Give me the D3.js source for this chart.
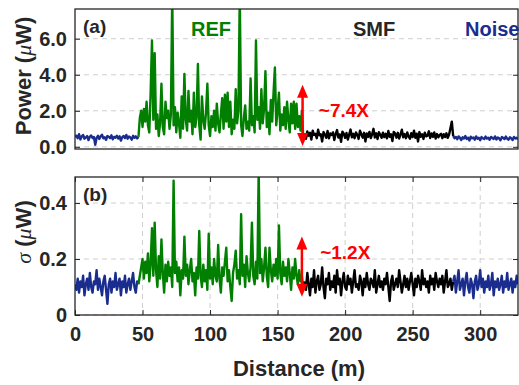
<!DOCTYPE html>
<html>
<head>
<meta charset="utf-8">
<script src="https://cdn.jsdelivr.net/npm/d3@7"></script>
<style>
  body { margin: 0; background: #fff; }
  svg text { font-family: "Liberation Sans", Arial, sans-serif; font-weight: bold; }
</style>
</head>
<body>
<div id="chart"></div>
<script>
// Tramos de la traza (distancia inicial en m, paso de 1 m)
const startNoiseA = 0, startRef = 47, startSmf = 170, startNoiseB = 280;

// Panel (a): potencia (µW)
const powerNoiseA = [0.55,0.62,0.48,0.70,0.41,0.58,0.66,0.45,0.52,0.60,
  0.38,0.57,0.63,0.49,0.55,0.12,0.50,0.61,0.44,0.58,
  0.67,0.47,0.53,0.39,0.60,0.56,0.48,0.64,0.42,0.55,
  0.51,0.62,0.46,0.58,0.35,0.54,0.60,0.49,0.66,0.45,
  0.57,0.52,0.40,0.61,0.50,0.58,0.47,0.55];
const powerRef = [0.55,1.6,2.0,1.1,2.1,1.4,2.5,1.2,0.8,3.0,
  5.9,1.5,5.2,1.0,1.8,0.6,1.3,3.5,1.1,0.7,
  2.5,1.6,2.0,1.0,1.8,8.5,1.2,2.2,0.8,1.9,
  1.3,0.5,2.8,1.0,4.05,1.5,0.9,3.1,1.4,2.0,
  0.7,3.0,1.1,1.6,4.6,1.2,0.4,2.8,1.5,1.0,
  1.9,3.5,1.2,0.6,1.7,1.1,2.0,0.9,2.4,1.3,
  0.8,1.8,2.7,1.0,2.9,1.4,3.0,1.1,2.5,0.7,
  1.5,1.0,3.2,1.3,2.0,8.5,1.2,0.6,1.6,2.3,
  1.0,1.4,0.9,3.8,1.2,1.7,0.8,5.9,1.5,2.2,
  1.0,3.2,1.3,2.1,4.2,1.1,1.9,0.7,2.6,1.4,
  3.0,4.4,1.2,2.0,3.0,0.9,1.8,1.2,2.2,1.0,
  2.5,1.5,0.8,2.4,1.3,2.5,1.0,2.4,1.1,1.7,
  0.9,2.0,0.5,0.7];
const powerSmf = [0.70,0.45,0.85,0.62,0.78,0.40,0.90,0.66,0.72,0.48,
  0.95,0.64,0.70,0.30,0.82,0.68,0.50,0.88,0.47,0.74,
  0.66,0.80,0.38,0.71,0.93,0.52,0.69,0.28,0.84,0.73,
  0.50,0.77,0.40,0.68,0.96,0.53,0.72,0.48,0.80,0.67,
  0.44,0.90,0.70,0.51,0.78,0.30,0.74,0.55,0.83,0.49,
  0.70,1.00,0.52,0.75,0.43,0.81,0.68,0.50,0.79,0.54,
  0.72,0.47,0.88,0.56,0.70,0.32,0.83,0.74,0.51,0.78,
  0.46,0.69,0.95,0.53,0.71,0.48,0.80,0.57,0.45,0.76,
  0.54,0.90,0.50,0.73,0.30,0.82,0.56,0.70,0.44,0.79,
  0.58,0.62,0.86,0.49,0.74,0.55,0.80,0.46,0.71,0.53,
  0.66,0.72,0.48,0.70,0.54,0.75,0.50,0.68,1.05,1.40,0.60];
const powerNoiseB = [0.60,0.48,0.55,0.42,0.58,0.50,0.38,0.53,0.46,0.60,
  0.44,0.51,0.35,0.56,0.47,0.52,0.40,0.58,0.45,0.50,
  0.37,0.54,0.48,0.43,0.57,0.46,0.51,0.39,0.55,0.49,
  0.44,0.58,0.41,0.52,0.47,0.36,0.54,0.50,0.43,0.57,
  0.45,0.40,0.53,0.48,0.38,0.55,0.46,0.51,0.42];

// Panel (b): desviación estándar (µW)
const sigmaNoiseA = [0.11,0.09,0.13,0.08,0.12,0.10,0.14,0.07,0.11,0.13,
  0.09,0.15,0.10,0.08,0.12,0.11,0.16,0.09,0.13,0.10,
  0.07,0.12,0.14,0.09,0.04,0.11,0.13,0.08,0.12,0.10,
  0.15,0.09,0.11,0.13,0.07,0.12,0.10,0.14,0.08,0.11,
  0.13,0.09,0.12,0.15,0.10,0.08,0.12,0.11];
const sigmaRef = [0.11,0.14,0.17,0.20,0.13,0.19,0.15,0.22,0.12,0.18,
  0.31,0.14,0.33,0.16,0.10,0.21,0.13,0.27,0.15,0.08,
  0.18,0.12,0.19,0.14,0.17,0.10,0.48,0.15,0.19,0.12,
  0.17,0.07,0.16,0.13,0.28,0.14,0.18,0.11,0.16,0.20,
  0.12,0.15,0.07,0.17,0.13,0.30,0.14,0.10,0.18,0.12,
  0.16,0.09,0.29,0.13,0.17,0.11,0.20,0.14,0.12,0.25,
  0.13,0.08,0.17,0.14,0.19,0.24,0.12,0.16,0.10,0.05,
  0.15,0.18,0.23,0.13,0.16,0.11,0.36,0.14,0.18,0.10,
  0.21,0.15,0.12,0.17,0.33,0.14,0.11,0.19,0.13,0.52,
  0.15,0.20,0.12,0.17,0.24,0.14,0.10,0.24,0.16,0.12,
  0.18,0.14,0.20,0.13,0.32,0.15,0.11,0.19,0.14,0.17,
  0.12,0.20,0.15,0.09,0.17,0.13,0.20,0.14,0.11,0.16,
  0.12,0.14,0.09,0.12];
const sigmaSmf = [0.12,0.09,0.15,0.11,0.07,0.13,0.10,0.16,0.08,0.12,
  0.14,0.09,0.11,0.17,0.10,0.06,0.13,0.11,0.15,0.09,
  0.12,0.10,0.14,0.08,0.16,0.11,0.13,0.07,0.12,0.15,
  0.10,0.09,0.14,0.11,0.13,0.08,0.12,0.16,0.10,0.11,
  0.09,0.14,0.12,0.07,0.13,0.10,0.15,0.11,0.09,0.13,
  0.12,0.10,0.16,0.08,0.11,0.14,0.10,0.12,0.09,0.13,
  0.11,0.15,0.10,0.05,0.12,0.14,0.09,0.11,0.13,0.10,
  0.16,0.12,0.08,0.11,0.14,0.10,0.13,0.09,0.12,0.15,
  0.11,0.07,0.13,0.10,0.14,0.12,0.09,0.16,0.11,0.13,
  0.10,0.12,0.08,0.14,0.11,0.13,0.09,0.15,0.12,0.10,
  0.13,0.11,0.14,0.08,0.12,0.16,0.10,0.11,0.13,0.09,0.12];
const sigmaNoiseB = [0.12,0.14,0.08,0.12,0.16,0.09,0.11,0.13,0.07,0.12,
  0.15,0.10,0.08,0.13,0.11,0.06,0.12,0.14,0.09,0.11,
  0.16,0.10,0.13,0.08,0.12,0.10,0.14,0.09,0.11,0.15,
  0.07,0.12,0.10,0.13,0.09,0.11,0.14,0.08,0.12,0.10,
  0.15,0.09,0.11,0.13,0.08,0.12,0.10,0.14,0.11];

// Ejes
const xTicks = [0, 50, 100, 150, 200, 250, 300];
const powerTicks = [0, 2, 4, 6];
const powerTickLabels = ["0.0", "2.0", "4.0", "6.0"];
const sigmaTicks = [0, 0.2, 0.4];
const sigmaTickLabels = ["0", "0.2", "0.4"];

// Flechas de contraste (distancia, valor inferior, valor superior)
const powerArrow = [168.5, 0.05, 3.45];
const sigmaArrow = [168, 0.065, 0.28];

const width = 519, height = 385;
const left = 75, right = 518;
const colNoise = "#1a2d8f", colRef = "#007f00", colSmf = "#000000", colAxis = "#262626";

const svg = d3.select("#chart").append("svg")
  .attr("width", width).attr("height", height);
svg.append("rect").attr("width", width).attr("height", height).attr("fill", "#fff");

const x = d3.scaleLinear().domain([0, 328]).range([left, right]);

function toPoints(values, start) {
  return values.map((v, i) => [start + i, v]);
}

function drawPanel(opts) {
  const y = d3.scaleLinear().domain(opts.yDomain).range([opts.bottom, opts.top]);
  const g = svg.append("g");
  const clipId = "clip-" + opts.id;
  svg.append("clipPath").attr("id", clipId)
    .append("rect").attr("x", left).attr("y", opts.top)
    .attr("width", right - left).attr("height", opts.bottom - opts.top);

  // rejilla
  g.selectAll(".hgrid").data(opts.yTicks).enter().append("line")
    .attr("x1", left).attr("x2", right)
    .attr("y1", d => y(d)).attr("y2", d => y(d))
    .attr("stroke", "#cfcfcf").attr("stroke-width", 1).attr("stroke-dasharray", "5,4");
  if (opts.vgrid) {
    g.selectAll(".vgrid").data(xTicks.slice(1)).enter().append("line")
      .attr("x1", d => x(d)).attr("x2", d => x(d))
      .attr("y1", opts.top).attr("y2", opts.bottom)
      .attr("stroke", "#cfcfcf").attr("stroke-width", 1).attr("stroke-dasharray", "5,4");
  }

  // trazas
  const line = d3.line().x(d => x(d[0])).y(d => y(d[1]));
  const traces = g.append("g").attr("clip-path", `url(#${clipId})`);
  opts.series.forEach(s => {
    traces.append("path")
      .datum(toPoints(s.values, s.start))
      .attr("d", line)
      .attr("fill", "none")
      .attr("stroke", s.color)
      .attr("stroke-width", 2.4)
      .attr("stroke-linejoin", "round");
  });

  // marco y marcas
  g.append("rect").attr("x", left).attr("y", opts.top)
    .attr("width", right - left).attr("height", opts.bottom - opts.top)
    .attr("fill", "none").attr("stroke", colAxis).attr("stroke-width", 1.3);

  g.append("g").attr("transform", `translate(${left},0)`)
    .call(d3.axisLeft(y).tickValues(opts.yTicks).tickSize(-5).tickPadding(8)
      .tickFormat((d, i) => opts.yTickLabels[i]))
    .call(a => a.select(".domain").remove())
    .call(a => a.selectAll("line").attr("stroke", colAxis))
    .call(a => a.selectAll("text").attr("fill", colAxis).style("font-size", "20px"));

  g.append("g").attr("transform", `translate(${right},0)`)
    .call(d3.axisRight(y).tickValues(opts.yTicks).tickSize(-5).tickFormat(""))
    .call(a => a.select(".domain").remove())
    .call(a => a.selectAll("line").attr("stroke", colAxis));

  if (opts.xAxis) {
    g.append("g").attr("transform", `translate(0,${opts.bottom})`)
      .call(d3.axisBottom(x).tickValues(xTicks).tickSize(-5).tickPadding(12))
      .call(a => a.select(".domain").remove())
      .call(a => a.selectAll("line").attr("stroke", colAxis))
      .call(a => a.selectAll("text").attr("fill", colAxis).style("font-size", "20px"));
    g.append("g").attr("transform", `translate(0,${opts.top})`)
      .call(d3.axisTop(x).tickValues(xTicks).tickSize(-5).tickFormat(""))
      .call(a => a.select(".domain").remove())
      .call(a => a.selectAll("line").attr("stroke", colAxis));
  }

  // flecha roja de doble punta
  const [ad, a0, a1] = opts.arrow;
  const ax = x(ad), ay0 = y(a0), ay1 = y(a1);
  g.append("line").attr("x1", ax).attr("x2", ax)
    .attr("y1", ay1 + 8).attr("y2", ay0 - 8)
    .attr("stroke", "#ff0000").attr("stroke-width", 2.5);
  g.append("path").attr("d", `M${ax},${ay1} L${ax - 5.5},${ay1 + 13} L${ax + 5.5},${ay1 + 13} Z`)
    .attr("fill", "#ff0000");
  g.append("path").attr("d", `M${ax},${ay0} L${ax - 5.5},${ay0 - 13} L${ax + 5.5},${ay0 - 13} Z`)
    .attr("fill", "#ff0000");
  g.append("text").attr("x", x(opts.ratioPos[0])).attr("y", y(opts.ratioPos[1]))
    .attr("fill", "#ff0000").style("font-size", "19px").text(opts.ratio);

  g.append("text").attr("x", 83).attr("y", opts.top + 24)
    .attr("fill", colAxis).style("font-size", "19px").text(opts.id === "a" ? "(a)" : "(b)");
  return y;
}

drawPanel({
  id: "a", top: 9, bottom: 149, yDomain: [-0.12, 7.65],
  yTicks: powerTicks, yTickLabels: powerTickLabels, vgrid: false, xAxis: false,
  series: [
    { values: powerNoiseA, start: startNoiseA, color: colNoise },
    { values: powerRef, start: startRef, color: colRef },
    { values: powerSmf, start: startSmf, color: colSmf },
    { values: powerNoiseB, start: startNoiseB, color: colNoise }
  ],
  arrow: powerArrow, ratio: "~7.4X", ratioPos: [180.5, 1.65]
});

drawPanel({
  id: "b", top: 177, bottom: 315, yDomain: [0, 0.493],
  yTicks: sigmaTicks, yTickLabels: sigmaTickLabels, vgrid: true, xAxis: true,
  series: [
    { values: sigmaNoiseA, start: startNoiseA, color: colNoise },
    { values: sigmaRef, start: startRef, color: colRef },
    { values: sigmaSmf, start: startSmf, color: colSmf },
    { values: sigmaNoiseB, start: startNoiseB, color: colNoise }
  ],
  arrow: sigmaArrow, ratio: "~1.2X", ratioPos: [181.5, 0.2]
});

// etiquetas de zona
svg.append("text").attr("x", 191).attr("y", 36).attr("fill", colRef)
  .style("font-size", "20px").text("REF");
svg.append("text").attr("x", 353).attr("y", 36).attr("fill", colAxis)
  .style("font-size", "20px").text("SMF");
svg.append("text").attr("x", 465).attr("y", 36).attr("fill", colNoise)
  .style("font-size", "20px").text("Noise");

// títulos de ejes
const yLab1 = svg.append("text")
  .attr("transform", "translate(31,76) rotate(-90)")
  .attr("text-anchor", "middle").attr("fill", colAxis).style("font-size", "22px");
yLab1.append("tspan").text("Power (");
yLab1.append("tspan").style("font-style", "italic").style("font-weight", "normal")
  .style("font-family", "'Liberation Serif', serif").text("\u03bc");
yLab1.append("tspan").text("W)");

const yLab2 = svg.append("text")
  .attr("transform", "translate(31,232) rotate(-90)")
  .attr("text-anchor", "middle").attr("fill", colAxis).style("font-size", "22px");
yLab2.append("tspan").style("font-style", "italic").style("font-weight", "normal")
  .style("font-family", "'Liberation Serif', serif").text("\u03c3");
yLab2.append("tspan").text(" (");
yLab2.append("tspan").style("font-style", "italic").style("font-weight", "normal")
  .style("font-family", "'Liberation Serif', serif").text("\u03bc");
yLab2.append("tspan").text("W)");

svg.append("text").attr("x", 299).attr("y", 376).attr("text-anchor", "middle")
  .attr("fill", colAxis).style("font-size", "22px").text("Distance (m)");
</script>
</body>
</html>
